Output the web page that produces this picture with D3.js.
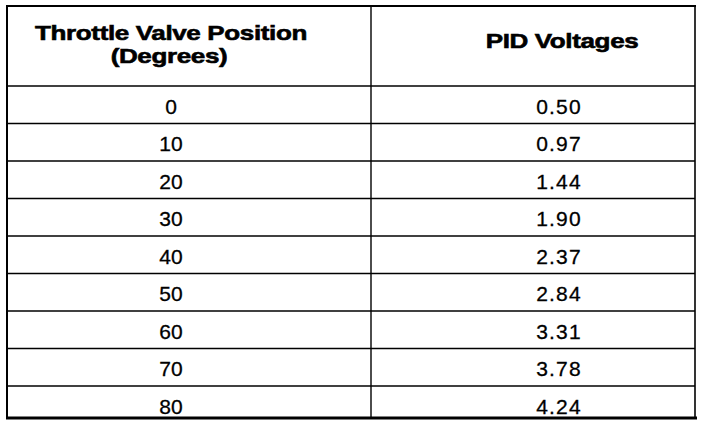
<!DOCTYPE html>
<html>
<head>
<meta charset="utf-8">
<script src="https://cdn.jsdelivr.net/npm/d3@7"></script>
<style>
  html, body { margin: 0; padding: 0; background: #fff; }
  text { font-family: "Liberation Sans", Arial, Helvetica, sans-serif; fill: #000; }
</style>
</head>
<body>
<svg id="table" width="704" height="424"></svg>
<script>
// 표 데이터
const headerLeft = ["Throttle Valve Position", "(Degrees)"];
const headerRight = ["PID Voltages"];
const degrees = [0, 10, 20, 30, 40, 50, 60, 70, 80];
const voltages = ["0.50", "0.97", "1.44", "1.90", "2.37", "2.84", "3.31", "3.78", "4.24"];

const svg = d3.select("#table");
const box = {left: 7, right: 695, top: 6, header: 86, bottom: 418, split: 371};
const headScale = 1.24;

// 행 위치 (마지막 행은 아래 테두리에서 잘림)
const yScale = d3.scaleBand()
    .domain(degrees)
    .range([box.header, box.header + 37.5 * degrees.length]);
// 열 위치 (텍스트 중심)
const xScale = d3.scaleOrdinal()
    .domain(["left", "right"])
    .range([171, 559]);

const rows = degrees.map((d, i) => ({deg: d, volt: voltages[i]}));

// 가로줄
svg.selectAll("line.row")
    .data(degrees)
    .join("line")
    .attr("class", "row")
    .attr("x1", box.left)
    .attr("x2", box.right)
    .attr("y1", d => yScale(d))
    .attr("y2", d => yScale(d))
    .style("stroke", "#000")
    .style("stroke-width", 1.4);

// 가운데 세로줄
svg.append("line")
    .attr("x1", box.split).attr("x2", box.split)
    .attr("y1", box.top).attr("y2", box.bottom)
    .style("stroke", "#000").style("stroke-width", 1.4);

// 테두리
svg.append("line").attr("x1", box.left - 1).attr("x2", box.right + 1)
    .attr("y1", box.top).attr("y2", box.top)
    .style("stroke", "#000").style("stroke-width", 2);
svg.append("line").attr("x1", box.left).attr("x2", box.left)
    .attr("y1", box.top).attr("y2", box.bottom)
    .style("stroke", "#000").style("stroke-width", 2);
svg.append("line").attr("x1", box.right).attr("x2", box.right)
    .attr("y1", box.top).attr("y2", box.bottom)
    .style("stroke", "#000").style("stroke-width", 1.6);
svg.append("line").attr("x1", box.left - 1).attr("x2", box.right + 2)
    .attr("y1", box.bottom).attr("y2", box.bottom)
    .style("stroke", "#000").style("stroke-width", 3);

// 헤더 텍스트 (가로로 넓은 굵은 글꼴)
svg.selectAll("text.hl")
    .data(headerLeft)
    .join("text")
    .attr("class", "hl")
    .attr("transform", (d, i) => `translate(${xScale("left") - 2 * i}, ${40 + i * 23}) scale(${headScale}, 1)`)
    .attr("text-anchor", "middle")
    .style("font-size", "21px")
    .style("font-weight", "bold")
    .style("letter-spacing", "-0.3px")
    .style("stroke", "#000")
    .style("stroke-width", 0.6)
    .text(d => d);
svg.selectAll("text.hr")
    .data(headerRight)
    .join("text")
    .attr("class", "hr")
    .attr("transform", `translate(${xScale("right") + 3}, 48) scale(${headScale}, 1)`)
    .attr("text-anchor", "middle")
    .style("font-size", "21px")
    .style("font-weight", "bold")
    .style("letter-spacing", "-0.3px")
    .style("stroke", "#000")
    .style("stroke-width", 0.6)
    .text(d => d);

// 셀 값
svg.selectAll("text.deg")
    .data(rows)
    .join("text")
    .attr("class", "deg")
    .attr("x", xScale("left"))
    .attr("y", d => yScale(d.deg) + 27.5)
    .attr("text-anchor", "middle")
    .style("font-size", "21px")
    .style("stroke", "#000")
    .style("stroke-width", 0.3)
    .text(d => d.deg);
svg.selectAll("text.volt")
    .data(rows)
    .join("text")
    .attr("class", "volt")
    .attr("x", xScale("right"))
    .attr("y", d => yScale(d.deg) + 27.5)
    .attr("text-anchor", "middle")
    .style("font-size", "21px")
    .style("letter-spacing", "1.2px")
    .style("stroke", "#000")
    .style("stroke-width", 0.3)
    .text(d => d.volt);
</script>
</body>
</html>
